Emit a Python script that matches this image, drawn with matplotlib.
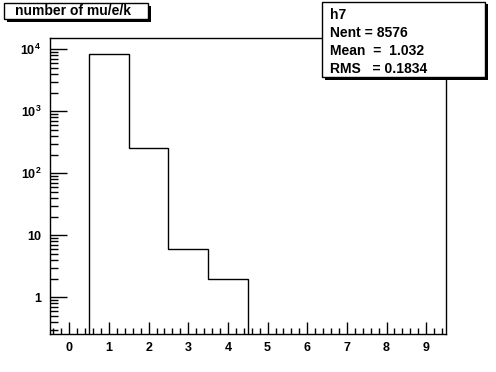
import math
import matplotlib
matplotlib.use("Agg")
import matplotlib.pyplot as plt
from matplotlib.patches import Rectangle
from matplotlib.ticker import MultipleLocator, LogLocator, FuncFormatter, NullFormatter

# histogram h7: number of mu/e/k
bin_centers = [1, 2, 3, 4]
counts = [8313, 255, 6, 2]
x_ticks = [0, 1, 2, 3, 4, 5, 6, 7, 8, 9]
title = "number of mu/e/k"
stats_lines = ["h7", "Nent = 8576", "Mean  =  1.032", "RMS   = 0.1834"]

W, H = 496, 372
plt.rcParams['font.family'] = ['Liberation Sans', 'DejaVu Sans']
plt.rcParams['mathtext.fontset'] = 'custom'
plt.rcParams['mathtext.rm'] = 'Liberation Sans'
plt.rcParams['mathtext.bf'] = 'Liberation Sans:bold'


def fx(x):
    return x / W


def fy(y):
    return 1 - y / H


fig = plt.figure(figsize=(W / 100, H / 100), dpi=100)
fig.patch.set_facecolor("white")

ax = fig.add_axes([fx(49.5), fy(334), fx(446) - fx(49.5), fy(37.7) - fy(334)])

edges = [c - 0.5 for c in bin_centers] + [bin_centers[-1] + 0.5]
ax.stairs(counts, edges, baseline=1e-3, color="black", linewidth=1)

ax.set_yscale("log")
ax.set_xlim(-0.5, 9.5)
ax.set_ylim(0.256, 15400)

ax.set_xticks(x_ticks)
ax.xaxis.set_minor_locator(MultipleLocator(0.2))
ax.yaxis.set_major_locator(LogLocator(base=10, numticks=10))
ax.yaxis.set_minor_locator(LogLocator(base=10, subs=range(2, 10), numticks=20))
ax.yaxis.set_minor_formatter(NullFormatter())


def ylab(v, pos):
    if v == 1:
        return "1"
    if v == 10:
        return "10"
    n = int(round(math.log10(v)))
    return r"$\mathbf{10^{%d}}$" % n


ax.yaxis.set_major_formatter(FuncFormatter(ylab))

ax.tick_params(axis="x", which="major", direction="in", length=9, width=1, pad=6,
               labelsize=9, top=False)
ax.tick_params(axis="x", which="minor", direction="in", length=4, width=1, top=False)
ax.tick_params(axis="y", which="major", direction="in", length=12, width=1, pad=6,
               labelsize=9, right=False)
ax.tick_params(axis="y", which="minor", direction="in", length=6, width=1, right=False)
for lab in ax.get_xticklabels() + ax.get_yticklabels():
    lab.set_fontweight("bold")
for sp in ax.spines.values():
    sp.set_linewidth(1)


def box(x0, y0, x1, y1, sh):
    fig.add_artist(Rectangle((fx(x0 + sh), fy(y1 + sh)), fx(x1 - x0), fy(y0) - fy(y1),
                             facecolor="black", edgecolor="black", lw=0, zorder=5))
    fig.add_artist(Rectangle((fx(x0), fy(y1)), fx(x1 - x0), fy(y0) - fy(y1),
                             facecolor="white", edgecolor="black", lw=1, zorder=6))


box(4, 3, 148, 19, 2.5)
fig.text(fx(15), fy(11), title, fontsize=10, fontweight="bold", va="center", ha="left", zorder=7)

box(322, 2, 485, 77, 2.5)
for i, line in enumerate(stats_lines):
    fig.text(fx(330), fy(15 + i * 18), line, fontsize=10, fontweight="bold",
             va="center", ha="left", zorder=7)

fig.savefig("out.png", dpi=100, facecolor="white")
